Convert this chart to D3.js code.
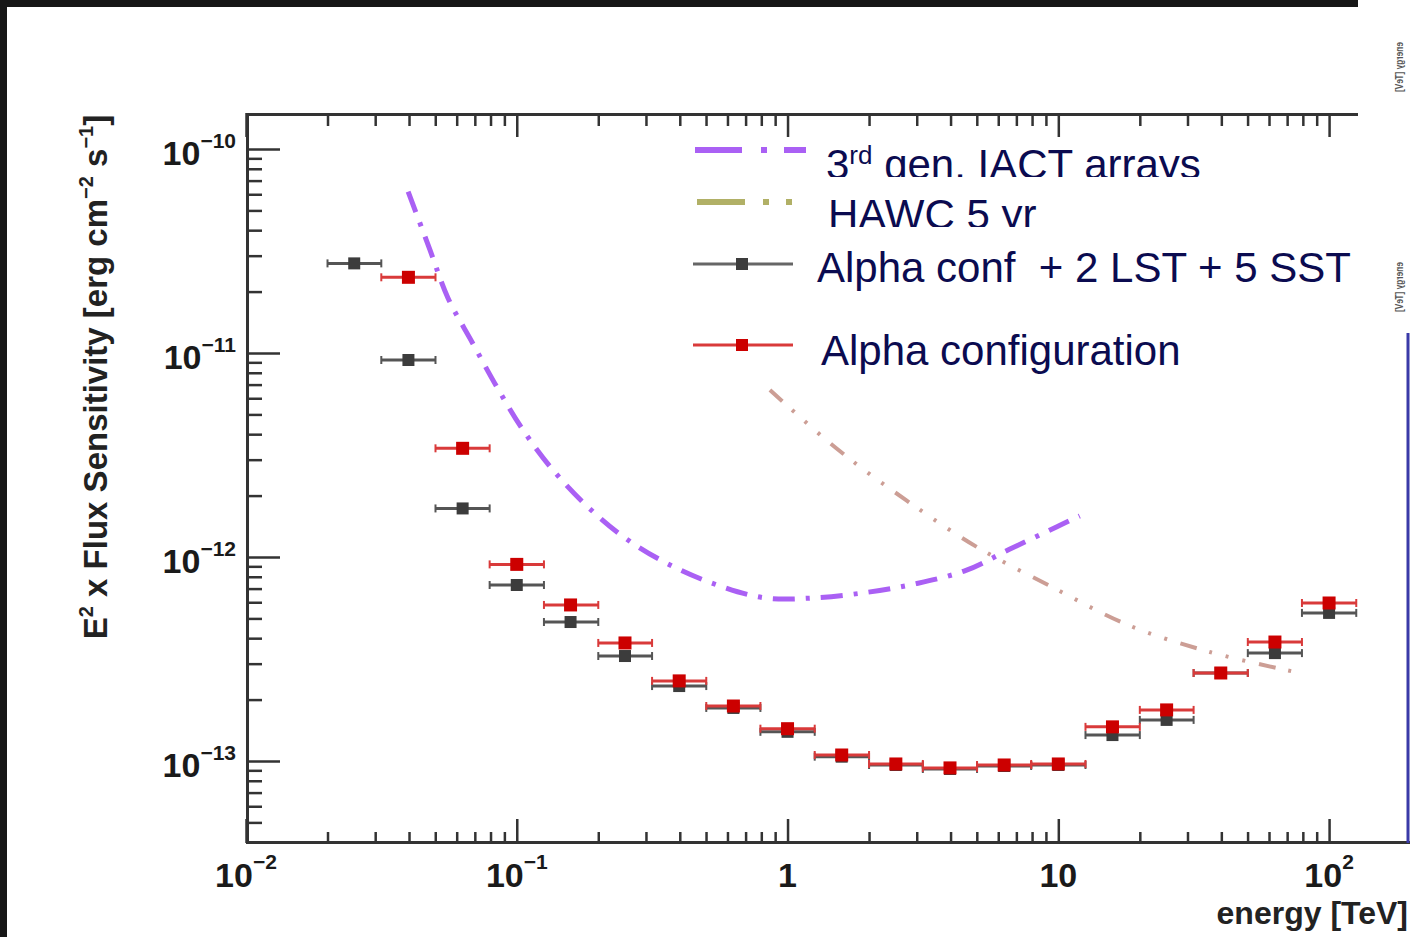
<!DOCTYPE html>
<html>
<head>
<meta charset="utf-8">
<script src="https://cdn.jsdelivr.net/npm/d3@7"></script>
<style>
  html, body { margin: 0; padding: 0; background: #fff; }
  svg { display: block; }
  text { font-family: "Liberation Sans", Arial, Helvetica, sans-serif; }
</style>
</head>
<body>
<svg id="chart" width="1412" height="937"></svg>
<script>
// ---- Sensitivity data -------------------------------------------------
// Energy bins [TeV]: centres and edges (5 bins per decade)
const binCentre = [0.0251, 0.0398, 0.0631, 0.1, 0.158, 0.251, 0.398, 0.631, 1.0, 1.585,
                   2.512, 3.981, 6.31, 10.0, 15.85, 25.12, 39.81, 63.1, 100];
const binLow    = [0.02, 0.0316, 0.0501, 0.0794, 0.126, 0.2, 0.316, 0.501, 0.794, 1.26,
                   2.0, 3.16, 5.01, 7.94, 12.6, 20.0, 31.6, 50.1, 79.4];
const binHigh   = [0.0316, 0.0501, 0.0794, 0.126, 0.2, 0.316, 0.501, 0.794, 1.26, 2.0,
                   3.16, 5.01, 7.94, 12.6, 20.0, 31.6, 50.1, 79.4, 126];

// E^2 x flux sensitivity [erg cm^-2 s^-1]
const alphaPlusSens = [2.75e-11, 9.24e-12, 1.73e-12, 7.29e-13, 4.8e-13, 3.27e-13, 2.33e-13,
                       1.82e-13, 1.39e-13, 1.05e-13, 9.56e-14, 9.14e-14, 9.45e-14, 9.56e-14,
                       1.34e-13, 1.59e-13, 2.70e-13, 3.38e-13, 5.32e-13];
const alphaSens     = [null, 2.35e-11, 3.41e-12, 9.2e-13, 5.82e-13, 3.79e-13, 2.47e-13,
                       1.86e-13, 1.44e-13, 1.07e-13, 9.67e-14, 9.25e-14, 9.56e-14, 9.67e-14,
                       1.47e-13, 1.78e-13, 2.70e-13, 3.83e-13, 5.95e-13];

// 3rd generation IACT arrays reference curve
const iactEnergy = [0.0397, 0.0478, 0.0557, 0.0684, 0.0845, 0.1054, 0.136, 0.183, 0.251, 0.368,
                    0.548, 0.826, 1.25, 1.95, 2.98, 4.56, 6.6, 9.8, 12.0];
const iactSens   = [6.18e-11, 3.2e-11, 1.86e-11, 1.13e-11, 6.8e-12, 4.2e-12, 2.67e-12, 1.76e-12,
                    1.24e-12, 9.14e-13, 7.3e-13, 6.3e-13, 6.3e-13, 6.7e-13, 7.4e-13, 8.6e-13,
                    1.09e-12, 1.40e-12, 1.59e-12];

// HAWC 5 yr reference curve
const hawcEnergy = [0.861, 1.51, 2.74, 5.0, 9.63, 18.1, 36.3, 78];
const hawcSens   = [6.59e-12, 3.42e-12, 1.90e-12, 1.12e-12, 7.05e-13, 4.64e-13, 3.42e-13, 2.70e-13];

// Axis labels
const xMajorTicks = [0.01, 0.1, 1, 10, 100];
const xTickBase   = ["10", "10", "1", "10", "10"];
const xTickExp    = ["\u22122", "\u22121", "", "", "2"];
const yMajorTicks = [1e-10, 1e-11, 1e-12, 1e-13];
const yTickBase   = ["10", "10", "10", "10"];
const yTickExp    = ["\u221210", "\u221211", "\u221212", "\u221213"];

const legendLabels = ["3rd gen. IACT arrays", "HAWC 5 yr", "Alpha conf  + 2 LST + 5 SST", "Alpha configuration"];

// ---- Layout -----------------------------------------------------------
const svg = d3.select("#chart");
const frame = { left: 246, top: 113, bottom: 843, right: 1410, topEnd: 1358 };

const x = d3.scaleLog().domain([0.01, 199]).range([frame.left, frame.right]);
const y = d3.scaleLog().domain([Math.pow(10, -13.402), Math.pow(10, -9.8235)]).range([frame.bottom, frame.top]);

const isDecade = v => Math.abs(Math.log10(v) - Math.round(Math.log10(v))) < 1e-6;
const xMinor = x.ticks().filter(v => !isDecade(v));
const yMinor = y.ticks().filter(v => !isDecade(v));

const axisColor = "#333";

// dark strips along the top and left edges
svg.append("rect").attr("x", 0).attr("y", 0).attr("width", 1358).attr("height", 7).attr("fill", "#171717");
svg.append("rect").attr("x", 0).attr("y", 0).attr("width", 7).attr("height", 937).attr("fill", "#171717");

// clip for the top frame (ends before the right margin) and legend entries
const defs = svg.append("defs");
defs.append("clipPath").attr("id", "topClip")
  .append("rect").attr("x", 0).attr("y", 0).attr("width", frame.topEnd).attr("height", 937);
defs.append("clipPath").attr("id", "clipIact")
  .append("rect").attr("x", 0).attr("y", 120).attr("width", 1412).attr("height", 57);
defs.append("clipPath").attr("id", "clipHawc")
  .append("rect").attr("x", 0).attr("y", 180).attr("width", 1412).attr("height", 47);

function styleAxis(g) {
  g.select(".domain").remove();
  g.selectAll(".tick line").attr("stroke", axisColor).attr("stroke-width", 2.5);
  g.selectAll(".tick text").remove();
}

// bottom axis (ticks point inward)
svg.append("g").attr("transform", `translate(0,${frame.bottom})`)
  .call(d3.axisBottom(x).tickValues(xMinor).tickSize(-11).tickFormat("")).call(styleAxis);
svg.append("g").attr("transform", `translate(0,${frame.bottom})`)
  .call(d3.axisBottom(x).tickValues(xMajorTicks).tickSize(-24).tickFormat("")).call(styleAxis);

// top axis
const topG = svg.append("g").attr("clip-path", "url(#topClip)");
topG.append("g").attr("transform", `translate(0,${frame.top})`)
  .call(d3.axisTop(x).tickValues(xMinor).tickSize(-13).tickFormat("")).call(styleAxis);
topG.append("g").attr("transform", `translate(0,${frame.top})`)
  .call(d3.axisTop(x).tickValues(xMajorTicks).tickSize(-24).tickFormat("")).call(styleAxis);

// left axis
svg.append("g").attr("transform", `translate(${frame.left},0)`)
  .call(d3.axisLeft(y).tickValues(yMinor).tickSize(-16).tickFormat("")).call(styleAxis);
svg.append("g").attr("transform", `translate(${frame.left},0)`)
  .call(d3.axisLeft(y).tickValues(yMajorTicks).tickSize(-34).tickFormat("")).call(styleAxis);

// frame lines
svg.append("line").attr("x1", frame.left).attr("x2", frame.right)
  .attr("y1", frame.bottom - 0.5).attr("y2", frame.bottom - 0.5)
  .attr("stroke", axisColor).attr("stroke-width", 3);
svg.append("line").attr("x1", frame.left).attr("x2", frame.topEnd)
  .attr("y1", frame.top + 1.5).attr("y2", frame.top + 1.5)
  .attr("stroke", axisColor).attr("stroke-width", 3);
svg.append("line").attr("x1", frame.left + 1.5).attr("x2", frame.left + 1.5)
  .attr("y1", frame.top).attr("y2", frame.bottom)
  .attr("stroke", axisColor).attr("stroke-width", 3);
// right edge line
svg.append("line").attr("x1", frame.right - 2).attr("x2", frame.right - 2)
  .attr("y1", 333).attr("y2", frame.bottom)
  .attr("stroke", "#3a3aa8").attr("stroke-width", 3);

// tick labels
const labelColor = "#1a1a1a";
xMajorTicks.forEach((v, i) => {
  const t = svg.append("text").attr("x", x(v)).attr("y", 887)
    .attr("text-anchor", "middle").attr("fill", labelColor)
    .attr("font-size", 34).attr("font-weight", "bold");
  t.append("tspan").text(xTickBase[i]);
  if (xTickExp[i]) t.append("tspan").attr("dy", -18).attr("font-size", 21).text(xTickExp[i]);
});
yMajorTicks.forEach((v, i) => {
  const t = svg.append("text").attr("x", 236).attr("y", y(v) + 16)
    .attr("text-anchor", "end").attr("fill", labelColor)
    .attr("font-size", 34).attr("font-weight", "bold");
  t.append("tspan").text(yTickBase[i]);
  t.append("tspan").attr("dy", -17).attr("font-size", 21).text(yTickExp[i]);
});

// axis titles
svg.append("text").attr("x", 1408).attr("y", 924).attr("text-anchor", "end")
  .attr("font-size", 32).attr("font-weight", "bold").attr("fill", "#222")
  .text("energy [TeV]");

const yTitle = svg.append("text")
  .attr("transform", "translate(107,377) rotate(-90)")
  .attr("text-anchor", "middle").attr("font-size", 33).attr("font-weight", "bold").attr("fill", "#222");
yTitle.append("tspan").text("E");
yTitle.append("tspan").attr("dy", -14).attr("font-size", 20).text("2");
yTitle.append("tspan").attr("dy", 14).text(" x Flux Sensitivity [erg cm");
yTitle.append("tspan").attr("dy", -14).attr("font-size", 20).text("\u22122");
yTitle.append("tspan").attr("dy", 14).text(" s");
yTitle.append("tspan").attr("dy", -14).attr("font-size", 20).text("\u22121");
yTitle.append("tspan").attr("dy", 14).text("]");

// mirrored vertical labels in the right margin
[42, 262].forEach(top => {
  svg.append("text")
    .attr("transform", `translate(1403,${top}) rotate(90) scale(1,-1)`)
    .attr("font-size", 11).attr("font-weight", "bold").attr("fill", "#555")
    .attr("textLength", 50).attr("lengthAdjust", "spacingAndGlyphs")
    .text("energy [TeV]");
});

// ---- Reference curves ----
const curve = d3.line().x(d => x(d[0])).y(d => y(d[1])).curve(d3.curveCatmullRom.alpha(0.5));

svg.append("path").datum(hawcEnergy.map((e, i) => [e, hawcSens[i]]))
  .attr("d", curve).attr("fill", "none")
  .attr("stroke", "#cc9e95").attr("stroke-width", 4)
  .attr("stroke-dasharray", "17 13 3 14 3 14 3 14");

svg.append("path").datum(iactEnergy.map((e, i) => [e, iactSens[i]]))
  .attr("d", curve).attr("fill", "none")
  .attr("stroke", "#aa60f4").attr("stroke-width", 5)
  .attr("stroke-dasharray", "22 11 4 11");

// ---- Sensitivity points with bin-width error bars ----
function drawSeries(values, color, barColor, size) {
  const g = svg.append("g");
  values.forEach((v, i) => {
    if (v == null) return;
    const yy = y(v);
    g.append("line").attr("x1", x(binLow[i])).attr("x2", x(binHigh[i]))
      .attr("y1", yy).attr("y2", yy).attr("stroke", barColor).attr("stroke-width", 3);
    [binLow[i], binHigh[i]].forEach(e => {
      g.append("line").attr("x1", x(e)).attr("x2", x(e))
        .attr("y1", yy - 4).attr("y2", yy + 4).attr("stroke", barColor).attr("stroke-width", 2);
    });
    g.append("rect").attr("x", x(binCentre[i]) - size / 2).attr("y", yy - size / 2)
      .attr("width", size).attr("height", size).attr("fill", color);
  });
}
drawSeries(alphaPlusSens, "#3c3c3c", "#555", 12);
drawSeries(alphaSens, "#cc0000", "#d93a3a", 13);

// ---- Legend ----
const legendText = "#0b0b50";
// IACT
svg.append("line").attr("x1", 695).attr("x2", 806).attr("y1", 150).attr("y2", 150)
  .attr("stroke", "#aa60f4").attr("stroke-width", 6).attr("stroke-dasharray", "47 19 6 17 30");
const tIact = svg.append("text").attr("x", 826).attr("y", 179).attr("font-size", 42)
  .attr("fill", legendText).attr("clip-path", "url(#clipIact)");
tIact.append("tspan").text(legendLabels[0].slice(0, 1));
tIact.append("tspan").attr("dy", -15).attr("font-size", 26).text(legendLabels[0].slice(1, 3));
tIact.append("tspan").attr("dy", 15).text(legendLabels[0].slice(3));
// HAWC
svg.append("line").attr("x1", 697).attr("x2", 792).attr("y1", 202).attr("y2", 202)
  .attr("stroke", "#b1b066").attr("stroke-width", 6).attr("stroke-dasharray", "48 18 6 17 6 40");
svg.append("text").attr("x", 828).attr("y", 229).attr("font-size", 42)
  .attr("fill", legendText).attr("clip-path", "url(#clipHawc)").text(legendLabels[1]);
// Alpha + LST + SST
svg.append("line").attr("x1", 693).attr("x2", 793).attr("y1", 264).attr("y2", 264)
  .attr("stroke", "#666").attr("stroke-width", 3);
svg.append("rect").attr("x", 736).attr("y", 258).attr("width", 12).attr("height", 12).attr("fill", "#3c3c3c");
svg.append("text").attr("x", 817).attr("y", 282).attr("font-size", 42)
  .attr("fill", legendText).style("white-space", "pre").text(legendLabels[2]);
// Alpha
svg.append("line").attr("x1", 693).attr("x2", 793).attr("y1", 345).attr("y2", 345)
  .attr("stroke", "#d93a3a").attr("stroke-width", 3);
svg.append("rect").attr("x", 736).attr("y", 339).attr("width", 12).attr("height", 12).attr("fill", "#cc0000");
svg.append("text").attr("x", 821).attr("y", 365).attr("font-size", 42)
  .attr("fill", legendText).text(legendLabels[3]);
</script>
</body>
</html>
